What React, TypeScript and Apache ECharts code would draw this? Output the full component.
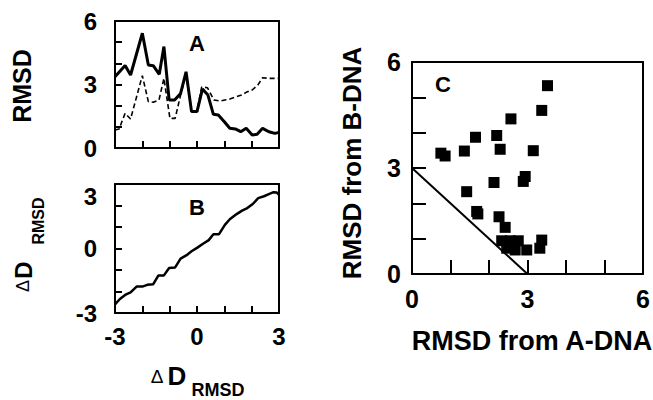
import React, { useEffect, useRef } from "react";
import * as echarts from "echarts";

// Panel A: RMSD vs ΔD_RMSD
const aSolidX = [-3, -2.63, -2.43, -2.0, -1.78, -1.6, -1.38, -1.21, -1.02, -0.82, -0.6, -0.4, -0.2, 0.0, 0.2, 0.4, 0.6, 0.78, 1.0, 1.2, 1.4, 1.6, 1.8, 2.02, 2.2, 2.4, 2.63, 2.85, 3.0];
const aSolidY = [3.37, 3.9, 3.45, 5.42, 3.92, 3.89, 3.48, 4.79, 2.27, 2.27, 2.58, 3.6, 1.72, 1.72, 2.79, 2.5, 1.59, 1.56, 1.24, 0.93, 0.9, 0.77, 0.93, 0.61, 0.65, 0.93, 0.77, 0.69, 0.74];
const aDashX = [-3, -2.85, -2.63, -2.43, -2.0, -1.78, -1.6, -1.39, -1.21, -0.99, -0.8, -0.6, -0.4, -0.2, 0.0, 0.17, 0.38, 0.62, 0.85, 1.02, 1.2, 1.45, 1.63, 1.8, 2.02, 2.23, 2.4, 2.65, 3.0];
const aDashY = [0.85, 0.9, 1.64, 1.37, 3.42, 2.19, 2.16, 2.27, 3.29, 1.4, 1.4, 2.5, 3.5, 1.75, 1.75, 2.88, 2.85, 2.27, 2.22, 2.27, 2.31, 2.43, 2.5, 2.63, 2.74, 2.98, 3.32, 3.29, 3.29];

// Panel B: ΔD_RMSD vs ΔD_RMSD
const bX = [-3, -2.82, -2.63, -2.43, -2.21, -2.0, -1.82, -1.6, -1.41, -1.21, -1.02, -0.8, -0.6, -0.38, -0.2, 0.0, 0.22, 0.43, 0.6, 0.8, 1.02, 1.2, 1.45, 1.65, 1.84, 2.04, 2.24, 2.45, 2.65, 2.8, 2.92, 3.0];
const bY = [-2.6, -2.35, -2.16, -2.04, -1.77, -1.77, -1.69, -1.66, -1.25, -1.25, -0.91, -0.88, -0.47, -0.31, -0.13, 0.03, 0.22, 0.39, 0.66, 0.66, 1.1, 1.36, 1.6, 1.76, 1.88, 2.07, 2.34, 2.43, 2.54, 2.62, 2.6, 2.5];

// Panel C: RMSD from A-DNA vs RMSD from B-DNA
const cX = [3.52, 3.37, 2.57, 1.65, 2.2, 0.75, 0.86, 1.36, 2.29, 3.15, 2.13, 2.94, 2.89, 1.42, 1.68, 1.71, 2.26, 2.42, 2.33, 2.55, 2.76, 2.46, 2.68, 2.98, 3.37, 3.32];
const cY = [5.33, 4.63, 4.39, 3.87, 3.92, 3.42, 3.34, 3.48, 3.53, 3.49, 2.59, 2.76, 2.62, 2.33, 1.77, 1.7, 1.62, 1.32, 0.94, 0.94, 0.94, 0.73, 0.68, 0.68, 0.96, 0.73];
const cLineX = [0, 3];
const cLineY = [3, 0];

// Tick labels shown
const abXLabels = [-3, 0, 3];
const aYLabels = [0, 3, 6];
const bYLabels = [-3, 0, 3];
const cLabels = [0, 3, 6];

const FONT = "Liberation Sans";

export default function App() {
  const ref = useRef<HTMLDivElement>(null);
  useEffect(() => {
    if (!ref.current) return;
    const chart = echarts.init(ref.current, null, { renderer: "svg" });
    const zip = (xs: number[], ys: number[]) => xs.map((x, i) => [x, ys[i]]);
    const axisCommon = (size: number, margin: number, show: number[], tickLen: number, extraLabel: any = {}) => ({
      type: "value" as const,
      interval: 1,
      axisLine: { show: true, onZero: false, lineStyle: { color: "#000", width: 2 } },
      axisTick: { show: true, inside: true, interval: 0, length: tickLen, lineStyle: { color: "#000", width: 2 } },
      splitLine: { show: false },
      axisLabel: {
        show: true,
        interval: 0,
        showMinLabel: true,
        showMaxLabel: true,
        hideOverlap: false,
        margin,
        color: "#000",
        fontFamily: FONT,
        fontWeight: "bold",
        fontSize: size,
        formatter: (v: number) => (show.indexOf(v) >= 0 ? String(v) : ""),
        ...extraLabel,
      },
    });
    const border = (grid: number, pos: string, min: number, max: number) => ({
      type: "value" as const,
      gridIndex: grid,
      position: pos,
      min, max, interval: 1,
      axisLine: { show: true, onZero: false, lineStyle: { color: "#000", width: 2 } },
      axisTick: { show: false },
      axisLabel: { show: false },
      splitLine: { show: false },
    });
    const grid = (left: number, top: number, width: number, height: number) => ({ left, top, width, height });
    const txt = (x: number, y: number, text: string, size: number, extra: any = {}) => ({
      type: "text",
      x, y,
      style: { text, fontFamily: FONT, fontWeight: "bold", fontSize: size, fill: "#000", align: "center", verticalAlign: "middle", ...extra },
    });
    const piece = (x: number, y: number, text: string, size: number, weight: string) => ({
      type: "text", x, y,
      style: { text, fontFamily: FONT, fontWeight: weight, fontSize: size, fill: "#000", align: "center", verticalAlign: "middle" },
    });
    chart.setOption({
      animation: false,
      backgroundColor: "#fff",
      grid: [grid(115, 21, 164, 127), grid(115, 184, 164, 129), grid(412, 62, 231, 212)],
      xAxis: [
        { ...axisCommon(24, 12, [], 7, { show: false }), gridIndex: 0, min: -3, max: 3, position: "bottom" },
        { ...axisCommon(24, 11, abXLabels, 7), gridIndex: 1, min: -3, max: 3, position: "bottom" },
        { ...axisCommon(25, 12, cLabels, 14), gridIndex: 2, min: 0, max: 6, position: "bottom" },
        border(0, "top", -3, 3),
        border(1, "top", -3, 3),
        border(2, "top", 0, 6),
      ],
      yAxis: [
        { ...axisCommon(24, 18, aYLabels, 7), gridIndex: 0, min: 0, max: 6, position: "left" },
        { ...axisCommon(24, 18, bYLabels, 7, { verticalAlignMaxLabel: "top" }), gridIndex: 1, min: -3, max: 3, position: "left" },
        { ...axisCommon(25, 11, cLabels, 14), gridIndex: 2, min: 0, max: 6, position: "left" },
        border(0, "right", 0, 6),
        border(1, "right", -3, 3),
        border(2, "right", 0, 6),
      ],
      series: [
        { type: "line", xAxisIndex: 0, yAxisIndex: 0, data: zip(aDashX, aDashY), showSymbol: false, lineStyle: { color: "#000", width: 1.6, type: [5, 3] } },
        { type: "line", xAxisIndex: 0, yAxisIndex: 0, data: zip(aSolidX, aSolidY), showSymbol: false, lineStyle: { color: "#000", width: 3 } },
        { type: "line", xAxisIndex: 1, yAxisIndex: 1, data: zip(bX, bY), showSymbol: false, lineStyle: { color: "#000", width: 2.5 } },
        { type: "line", xAxisIndex: 2, yAxisIndex: 2, data: zip(cLineX, cLineY), showSymbol: false, lineStyle: { color: "#000", width: 2 } },
        { type: "scatter", xAxisIndex: 2, yAxisIndex: 2, data: zip(cX, cY), symbol: "rect", symbolSize: 11, itemStyle: { color: "#000", opacity: 1 } },
      ],
      graphic: [
        txt(197, 43, "A", 22),
        txt(197, 207, "B", 22),
        txt(443, 84, "C", 22),
        { ...txt(22, 86, "RMSD", 25), rotation: Math.PI / 2 },
        { ...txt(352, 163, "RMSD from B-DNA", 26), rotation: Math.PI / 2 },
        txt(532, 341, "RMSD from A-DNA", 27),
        {
          type: "group", x: 23, y: 250, rotation: Math.PI / 2,
          children: [
            piece(-36, 0, "\u0394", 18, "normal"),
            piece(-20, 0, "D", 24, "bold"),
            piece(29, 15, "RMSD", 16, "bold"),
          ],
        },
        {
          type: "group", x: 196, y: 376, rotation: 0,
          children: [
            piece(-39, 0, "\u0394", 19, "normal"),
            piece(-19, 0, "D", 26, "bold"),
            piece(22, 14, "RMSD", 18, "bold"),
          ],
        },
      ],
    });
    return () => chart.dispose();
  }, []);
  return <div ref={ref} style={{ position: "absolute", left: 0, top: 0, width: 653, height: 400, background: "#fff" }} />;
}
